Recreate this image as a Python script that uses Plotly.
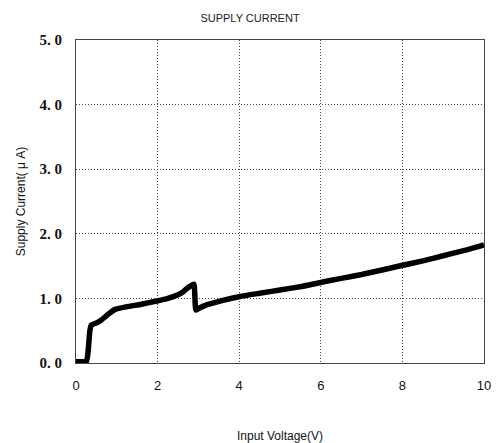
import plotly.graph_objects as go

voltage = [0.0, 0.15, 0.26, 0.30, 0.34, 0.38, 0.50, 0.63, 0.80, 0.96, 1.24, 1.60, 1.98, 2.25, 2.47, 2.62, 2.71, 2.80, 2.89, 2.94, 3.05, 3.20, 3.60, 4.02, 4.50, 5.00, 5.49, 6.02, 6.50, 7.00, 7.50, 7.98, 8.50, 9.00, 9.50, 10.0]
current = [0.02, 0.02, 0.03, 0.20, 0.50, 0.59, 0.62, 0.67, 0.76, 0.83, 0.87, 0.91, 0.96, 1.00, 1.05, 1.10, 1.15, 1.19, 1.22, 0.82, 0.86, 0.90, 0.97, 1.03, 1.08, 1.13, 1.18, 1.25, 1.31, 1.37, 1.44, 1.51, 1.58, 1.66, 1.74, 1.83]

y_ticks = [0, 1, 2, 3, 4, 5]
y_ticktext = ["0. 0", "1. 0", "2. 0", "3. 0", "4. 0", "5. 0"]
x_ticks = [0, 2, 4, 6, 8, 10]

fig = go.Figure()
fig.add_trace(go.Scatter(x=voltage, y=current, mode="lines",
                         line=dict(color="black", width=5.5, shape="spline", smoothing=0.4),
                         showlegend=False))

fig.update_layout(
    width=500, height=443,
    margin=dict(l=76, r=16, t=40, b=80),
    paper_bgcolor="white", plot_bgcolor="white",
    title=dict(text="SUPPLY CURRENT", xref="container", x=0.5, xanchor="center",
               yref="container", y=0.96, yanchor="middle",
               font=dict(family="Liberation Sans, Arial", size=11, color="#222")),
)
fig.update_xaxes(range=[0, 10], tickvals=x_ticks, showgrid=True, gridcolor="#444",
                 griddash="1px,2px", gridwidth=1, showline=True, linecolor="#444", linewidth=1,
                 mirror=True, zeroline=False, ticks="", ticklabelstandoff=10, automargin=False,
                 tickfont=dict(family="Liberation Sans, Arial", size=13, color="#111"),
                 title=dict(text="Input Voltage(V)", standoff=42,
                            font=dict(family="Liberation Sans, Arial", size=12, color="#111")))
fig.update_yaxes(range=[0, 5], tickvals=y_ticks, ticktext=y_ticktext, showgrid=True,
                 gridcolor="#444", griddash="1px,2px", gridwidth=1, showline=True,
                 linecolor="#444", linewidth=1, mirror=True, zeroline=False, ticks="",
                 ticklabelstandoff=10, automargin=False,
                 tickfont=dict(family="Liberation Serif, DejaVu Serif", size=15, color="#111", weight="bold"),
                 title=dict(text="Supply Current( μ A)", standoff=11,
                            font=dict(family="Liberation Sans, Arial", size=12, color="#111")))

fig.write_html("out.html", config={"displayModeBar": False},
               post_script="document.body.style.margin='0';")
